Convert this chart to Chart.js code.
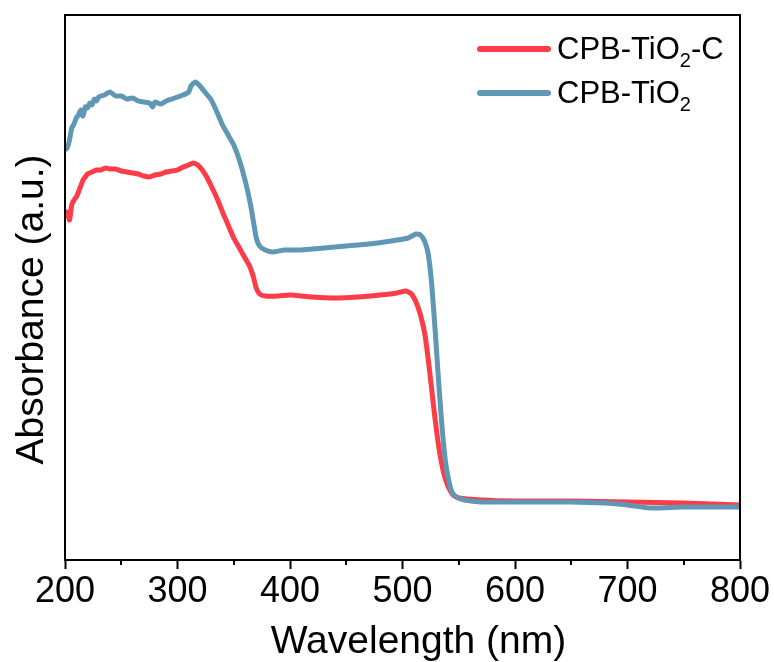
<!DOCTYPE html>
<html>
<head>
<meta charset="utf-8">
<script src="https://cdn.jsdelivr.net/npm/chart.js@4"></script>
<style>
  html, body { margin: 0; padding: 0; background: #fff; }
  #wrap { width: 774px; height: 662px; position: relative; }
</style>
</head>
<body>
<div id="wrap"><canvas id="absChart"></canvas></div>
<script>
// data (wavelength in nm, absorbance in arbitrary units)
const redWl = [200, 202, 204, 206, 208, 210, 212, 214, 216, 218, 220, 224, 228, 232, 236, 240, 245, 250, 255, 260, 265, 270, 275, 280, 285, 290, 295, 300, 305, 310, 314, 318, 322, 326, 330, 335, 340, 345, 350, 355, 360, 364, 367, 370, 373, 378, 390, 400, 420, 440, 460, 480, 495, 503, 508, 512, 516, 520, 524, 528, 532, 536, 540, 545, 550, 570, 600, 650, 700, 750, 800];
const redAbs = [3.42, 3.48, 3.40, 3.55, 3.60, 3.63, 3.68, 3.74, 3.80, 3.83, 3.86, 3.88, 3.90, 3.90, 3.92, 3.91, 3.91, 3.89, 3.88, 3.87, 3.86, 3.84, 3.83, 3.85, 3.86, 3.88, 3.89, 3.90, 3.93, 3.95, 3.97, 3.95, 3.90, 3.83, 3.74, 3.62, 3.48, 3.35, 3.22, 3.12, 3.02, 2.94, 2.85, 2.72, 2.66, 2.64, 2.64, 2.65, 2.63, 2.62, 2.63, 2.65, 2.67, 2.69, 2.66, 2.58, 2.45, 2.25, 1.90, 1.50, 1.15, 0.90, 0.75, 0.65, 0.62, 0.60, 0.59, 0.59, 0.58, 0.57, 0.55];

const blueWl = [200, 202, 204, 206, 208, 210, 212, 214, 216, 218, 220, 222, 224, 226, 228, 230, 235, 240, 245, 250, 255, 260, 265, 270, 275, 278, 280, 285, 290, 295, 300, 305, 310, 312, 316, 320, 325, 330, 335, 340, 345, 350, 355, 360, 365, 368, 370, 373, 378, 385, 395, 410, 430, 450, 470, 490, 505, 512, 516, 520, 523, 526, 529, 532, 535, 538, 541, 544, 548, 555, 570, 600, 650, 680, 700, 720, 750, 800];
const blueAbs = [4.10, 4.12, 4.20, 4.32, 4.36, 4.42, 4.45, 4.50, 4.44, 4.53, 4.52, 4.57, 4.55, 4.61, 4.59, 4.63, 4.65, 4.68, 4.64, 4.64, 4.61, 4.62, 4.59, 4.58, 4.57, 4.53, 4.58, 4.56, 4.59, 4.61, 4.63, 4.65, 4.68, 4.74, 4.78, 4.74, 4.67, 4.60, 4.48, 4.35, 4.25, 4.15, 4.00, 3.80, 3.55, 3.35, 3.22, 3.14, 3.10, 3.08, 3.10, 3.10, 3.12, 3.14, 3.16, 3.19, 3.22, 3.26, 3.25, 3.18, 3.05, 2.75, 2.30, 1.80, 1.35, 1.00, 0.80, 0.68, 0.63, 0.60, 0.58, 0.58, 0.58, 0.57, 0.55, 0.52, 0.53, 0.53];

const xTickLabels = ["200", "300", "400", "500", "600", "700", "800"];
const xTitle = "Wavelength (nm)";
const yTitle = "Absorbance (a.u.)";

const FONT = "'Liberation Sans', Arial, sans-serif";
const RED = "#FC3C46";
const BLUE = "#5F97B5";

const toPoints = (xs, ys) => xs.map((x, i) => ({ x, y: ys[i] }));

// frame (top/right), minor ticks, axis titles and legend with subscripts
const framePlugin = {
  id: "frame",
  afterDraw(chart) {
    const { ctx, chartArea: a, scales } = chart;
    ctx.save();
    ctx.strokeStyle = "#000";
    ctx.lineWidth = 2;
    ctx.strokeRect(a.left, a.top, a.right - a.left, a.bottom - a.top);

    // minor ticks at the 50s
    const xs = scales.x;
    for (let v = 250; v < 800; v += 100) {
      const px = Math.round(xs.getPixelForValue(v));
      ctx.beginPath();
      ctx.moveTo(px, a.bottom);
      ctx.lineTo(px, a.bottom + 5);
      ctx.stroke();
    }

    // axis titles (slightly off-centre in the original)
    ctx.fillStyle = "#000";
    ctx.font = "39px " + FONT;
    ctx.textAlign = "center";
    ctx.textBaseline = "alphabetic";
    ctx.fillText(xTitle, (a.left + a.right) / 2 + 16, 653);
    ctx.save();
    ctx.translate(43, (a.top + a.bottom) / 2 + 22);
    ctx.rotate(-Math.PI / 2);
    ctx.fillText(yTitle, 0, 0);
    ctx.restore();

    // legend
    ctx.textAlign = "left";
    const rows = [
      { color: RED, parts: ["CPB-TiO", "2", "-C"] },
      { color: BLUE, parts: ["CPB-TiO", "2", ""] }
    ];
    rows.forEach((r, i) => {
      const y = a.top + 34 + i * 44;
      ctx.strokeStyle = r.color;
      ctx.lineWidth = 6;
      ctx.lineCap = "round";
      ctx.beginPath();
      ctx.moveTo(a.right - 260, y);
      ctx.lineTo(a.right - 192, y);
      ctx.stroke();

      let tx = a.right - 183;
      const base = y + 10;
      ctx.font = "31px " + FONT;
      ctx.fillText(r.parts[0], tx, base);
      tx += ctx.measureText(r.parts[0]).width;
      ctx.font = "20px " + FONT;
      ctx.fillText(r.parts[1], tx, base + 8);
      tx += ctx.measureText(r.parts[1]).width;
      ctx.font = "31px " + FONT;
      ctx.fillText(r.parts[2], tx, base);
    });
    ctx.restore();
  }
};

new Chart(document.getElementById("absChart"), {
  type: "line",
  data: {
    datasets: [
      {
        label: "CPB-TiO2-C",
        data: toPoints(redWl, redAbs),
        borderColor: RED,
        borderWidth: 5,
        pointRadius: 0,
        tension: 0.2,
        order: 1
      },
      {
        label: "CPB-TiO2",
        data: toPoints(blueWl, blueAbs),
        borderColor: BLUE,
        borderWidth: 5,
        pointRadius: 0,
        tension: 0.2,
        order: 0
      }
    ]
  },
  options: {
    responsive: true,
    maintainAspectRatio: false,
    animation: false,
    layout: { padding: { top: 15, right: 34, left: 0, bottom: 0 } },
    plugins: {
      legend: { display: false },
      tooltip: { enabled: false }
    },
    scales: {
      x: {
        type: "linear",
        min: 200,
        max: 800,
        afterFit: s => { s.height = 102; },
        afterBuildTicks: s => { s.ticks = xTickLabels.map(t => ({ value: Number(t) })); },
        ticks: {
          color: "#000",
          font: { family: FONT, size: 36 },
          padding: 1,
          maxRotation: 0,
          callback: v => String(v)
        },
        grid: { drawOnChartArea: false, drawTicks: true, tickLength: 9, tickColor: "#000", tickWidth: 2 },
        border: { color: "#000", width: 2 }
      },
      y: {
        type: "linear",
        min: 0,
        max: 5.45,
        afterFit: s => { s.width = 65; },
        ticks: { display: false },
        grid: { display: false },
        border: { color: "#000", width: 2 }
      }
    }
  },
  plugins: [framePlugin]
});
</script>
</body>
</html>
